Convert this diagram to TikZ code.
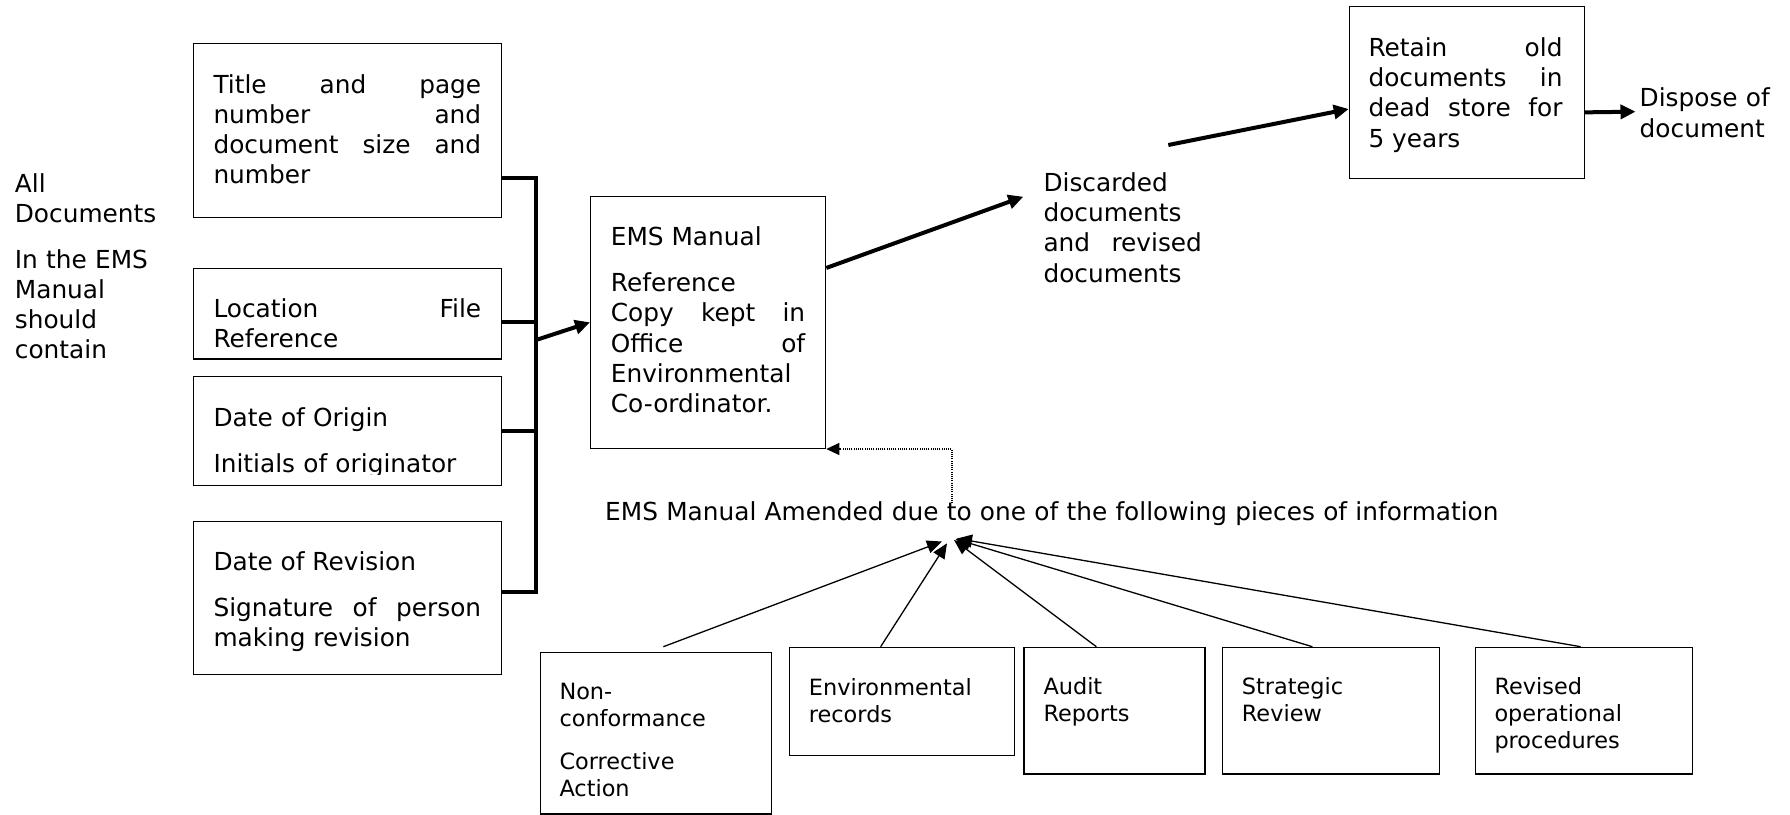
\documentclass[tikz,border=0pt]{standalone}
\usepackage{fontspec}
\setmainfont{DejaVu Sans}
\usetikzlibrary{arrows.meta}
\tikzset{
  box/.style={draw, line width=1.3pt, inner sep=0pt, anchor=north west},
  txtbase/.style={inner sep=0pt, anchor=base west,
    execute at begin node={\tolerance=10000\hbadness=10000\hyphenpenalty=10000\exhyphenpenalty=10000}},
  bigtxt/.style={txtbase, font=\fontsize{24.8pt}{30.1pt}\selectfont, align=justify},
  smalltxt/.style={txtbase, font=\fontsize{22.4pt}{27.3pt}\selectfont, align=left},
  thickline/.style={line width=4pt},
  thickarrow/.style={line width=4pt, -{Triangle[length=15pt,width=14pt]}},
  thinarrow/.style={line width=1.3pt, -{Triangle[length=15pt,width=13pt]}},
  dottedarrow/.style={line width=1.2pt, dash pattern=on 1pt off 1.2pt, -{Triangle[length=13pt,width=12pt]}}
}
\begin{document}
\begin{tikzpicture}[x=1pt,y=-1pt]
\useasboundingbox (0,0) rectangle (1790,814);

% boxes
\node[box, minimum width=307.7pt, minimum height=174pt]   (title) at (193,42.7) {};
\node[box, minimum width=307.7pt, minimum height=90.3pt]  (loc)   at (193,268) {};
\node[box, minimum width=307.7pt, minimum height=109pt]   (orig)  at (193,376) {};
\node[box, minimum width=307.7pt, minimum height=153.3pt] (rev)   at (193,520.7) {};
\node[box, minimum width=235pt,   minimum height=252pt]   (ems)   at (590,195.7) {};
\node[box, minimum width=235pt,   minimum height=171.7pt] (ret)   at (1348.7,6) {};
\node[box, minimum width=231pt,   minimum height=161.6pt] (nc)    at (540,651.7) {};
\node[box, minimum width=224.5pt, minimum height=108.3pt] (env)   at (789,646.7) {};
\node[box, minimum width=181pt,   minimum height=126.6pt] (aud)   at (1023.3,646.7) {};
\node[box, minimum width=217.3pt, minimum height=126.6pt] (str)   at (1221.7,646.7) {};
\node[box, minimum width=217pt,   minimum height=126.6pt] (rvp)   at (1474.7,646.7) {};

% texts
\node[bigtxt, text width=150pt, align=left] (alldocs) at (14.7,192.3)
  {All\\Documents\\[16pt]In the EMS\\Manual\\should\\contain};
\node[bigtxt, text width=267.7pt] (titletxt) at (213.3,93.3)
  {Title and page\linebreak number and\linebreak document size and\linebreak number};
\node[bigtxt, text width=267.7pt] (loctxt) at (213.3,317.3)
  {Location File\linebreak Reference};
\begin{scope}
  \clip (193,376) rectangle (500.7,474.3);
  \node[bigtxt, text width=267.7pt, align=left] (origtxt) at (213.3,426.7)
    {Date of Origin\\[16pt]Initials of originator};
\end{scope}
\node[bigtxt, text width=267.7pt] (revtxt) at (213.3,570.7)
  {Date of Revision\\[16pt]Signature of person\linebreak making revision};
\node[bigtxt, text width=194.3pt] (emstxt) at (610.7,245.7)
  {EMS Manual\\[16pt]Reference\\Copy kept in\linebreak Office of\linebreak Environmental\\Co-ordinator.};
\node[bigtxt, text width=158.4pt] (disc) at (1043.3,191.7)
  {Discarded\\documents\\and revised\linebreak documents};
\node[bigtxt, text width=194pt] (rettxt) at (1368.3,56.7)
  {Retain old\linebreak documents in\linebreak dead store for\linebreak 5 years};
\node[bigtxt, text width=145pt, align=left] (disp) at (1639.5,106.9)
  {Dispose of\\document};
\node[bigtxt, text width=950pt, align=left] (amend) at (605,520.7)
  {EMS Manual Amended due to one of the following pieces of information};

\node[smalltxt, text width=200pt] (nctxt)  at (559.3,699.3) {Non-\\conformance\\[15.3pt]Corrective\\Action};
\node[smalltxt, text width=200pt] (envtxt) at (808.7,695)   {Environmental\\records};
\node[smalltxt, text width=150pt] (audtxt) at (1043.3,694)  {Audit\\Reports};
\node[smalltxt, text width=190pt] (strtxt) at (1241.7,694)  {Strategic\\Review};
\node[smalltxt, text width=190pt] (rvptxt) at (1494.3,694)  {Revised\\operational\\procedures};

% bracket
\coordinate (bt) at (536,178);
\coordinate (bl) at (536,322.3);
\coordinate (bb) at (536,592);
\coordinate (bm) at (536,340);
\draw[thickline] (title.east |- bt) -- (bt) -- (bb) -- (rev.east |- bb);
\draw[thickline] (loc.east |- bl) -- (bl);
\draw[thickline] (orig.east) -- (orig.east -| bt);

% thick arrows
\draw[thickarrow] (bm) -- (ems.west);
\draw[thickarrow] ([yshift=54.4pt]ems.east) -- ([xshift=-20pt,yshift=-5pt]disc.base west);
\draw[thickarrow] ([xshift=125pt,yshift=46.7pt]disc.base west) -- ([yshift=-16.5pt]ret.west);
\draw[thickarrow] ([yshift=-19.85pt]ret.east) -- ([xshift=-4pt,yshift=-4.8pt]disp.base west);

% dotted feedback
\draw[dottedarrow] ([xshift=347pt,yshift=17.4pt]amend.base west) |- (ems.south east);

% thin arrows
\coordinate (tnc)  at ([xshift=337pt,yshift=-20.8pt]amend.base west);
\coordinate (tenv) at ([xshift=342pt,yshift=-22.6pt]amend.base west);
\coordinate (taud) at ([xshift=349pt,yshift=-19.3pt]amend.base west);
\coordinate (tstr) at ([xshift=350.5pt,yshift=-18.3pt]amend.base west);
\coordinate (trvp) at ([xshift=352pt,yshift=-17.8pt]amend.base west);
\draw[thinarrow] ([xshift=7.2pt,yshift=5pt]nc.north) -- (tnc);
\draw[thinarrow] ([xshift=-21.25pt]env.north) -- (tenv);
\draw[thinarrow] ([xshift=-18.1pt]aud.north) -- (taud);
\draw[thinarrow] ([xshift=-18.65pt]str.north) -- (tstr);
\draw[thinarrow] ([xshift=-3.2pt]rvp.north) -- (trvp);
\end{tikzpicture}
\end{document}
